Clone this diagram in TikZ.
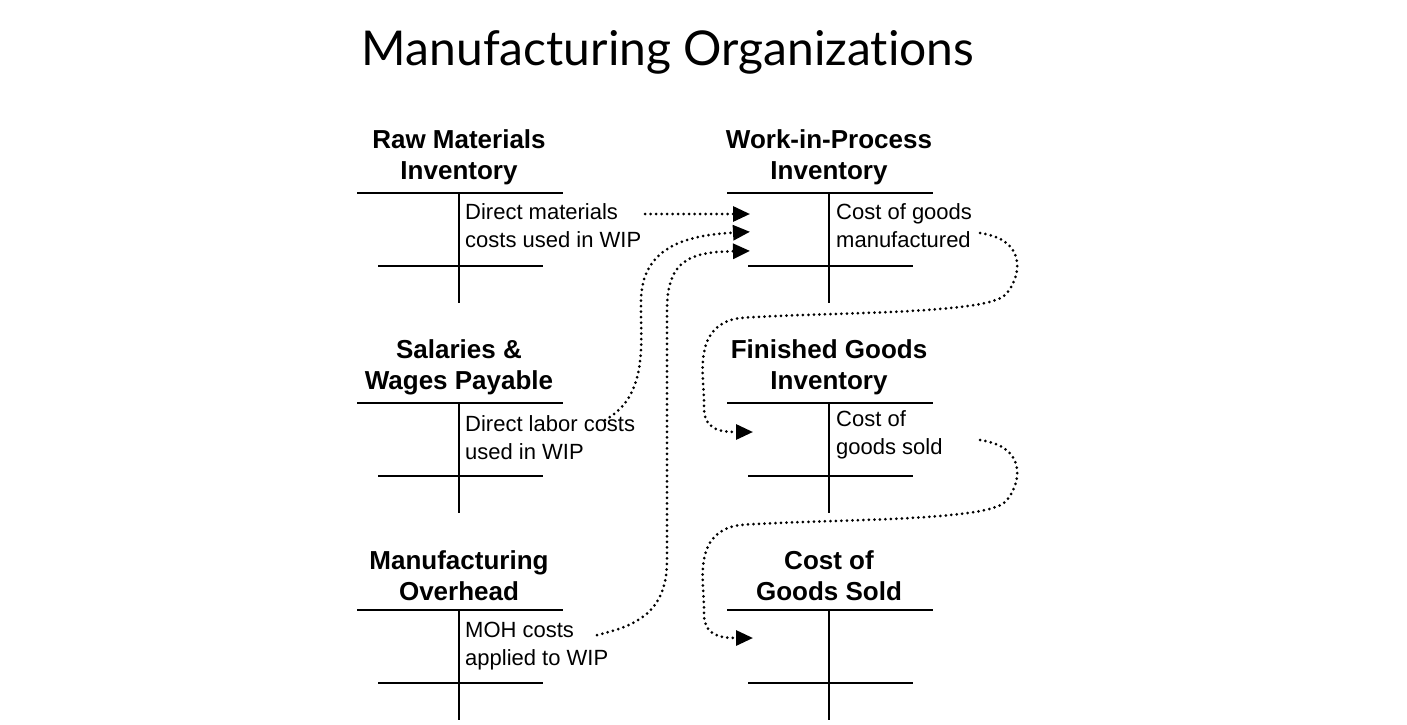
\documentclass[tikz,border=0pt]{standalone}
\usepackage{fontspec}
\setmainfont{Liberation Sans}
\newfontfamily\titlefont[Ligatures=NoCommon]{Lato}
\usetikzlibrary{arrows.meta}
\tikzset{
  acct/.style={line width=2.2pt},
  flow/.style={line width=3pt, dash pattern=on 0pt off 5.5pt, line cap=round, -{Triangle[length=17pt,width=15pt,line cap=butt,sep=-4pt]}},
  head/.style={font=\fontsize{26}{31}\selectfont\bfseries, align=center},
  entry/.style={font=\fontsize{22}{28}\selectfont, align=left, anchor=north west, inner sep=0pt}
}
\begin{document}
\begin{tikzpicture}[x=1pt,y=-1pt]
\useasboundingbox (0,0) rectangle (1407,724);
\node[font=\titlefont\fontsize{48}{52}\selectfont] (title) at (668,52) {Manufacturing Organizations};
% T-accounts: #1 centre x, #2 top line y
\foreach \cx/\ty/\nm in {459/193/rm,459/403/sw,459/610/moh,829/193/wip,829/403/fg,829/610/cogs}{
  \draw[acct] (\cx-102,\ty) -- (\cx+104,\ty);
  \draw[acct] (\cx-81,\ty+73) -- (\cx+84,\ty+73);
  \draw[acct] (\cx,\ty) -- (\cx,\ty+110);
  \coordinate (\nm) at (\cx,\ty);
}
\node[head] (rmh) at (459,157) {Raw Materials\\Inventory};
\node[head] (swh) at (459,367) {Salaries \&\\Wages Payable};
\node[head] (mohh) at (459,576) {Manufacturing\\Overhead};
\node[head] (wiph) at (829,157) {Work-in-Process\\Inventory};
\node[head] (fgh) at (829,367) {Finished Goods\\Inventory};
\node[head] (cogsh) at (829,576) {Cost of\\Goods Sold};
\node[entry] (dm) at (465,203) {Direct materials\\costs used in WIP};
\node[entry] (dl) at (465,415) {Direct labor costs\\used in WIP};
\node[entry] (mo) at (465,622) {MOH costs\\applied to WIP};
\node[entry] (cgm) at (836,203) {Cost of goods\\manufactured};
\node[entry] (cgs) at (836,410) {Cost of\\goods sold};
\coordinate (in1) at (746,214);
\coordinate (in2) at (746,232);
\coordinate (in3) at (746,251);
\coordinate (in4) at (749,432);
\coordinate (in5) at (749,638);
\draw[flow] (645,214) -- (in1);
\draw[flow] (605,420) .. controls (650,395) and (640,340) .. (641,300)
  .. controls (642,245) and (690,235) .. (in2);
\draw[flow] (597,635) .. controls (640,625) and (667,610) .. (667,560)
  -- (667,310) .. controls (667,260) and (690,252) .. (in3);
\draw[flow] (980,233) .. controls (1030,240) and (1020,280) .. (1005,295)
  .. controls (985,315) and (820,312) .. (740,318)
  .. controls (690,325) and (705,380) .. (704,405)
  .. controls (703,430) and (720,432) .. (in4);
\draw[flow] (980,440) .. controls (1030,447) and (1020,487) .. (1005,502)
  .. controls (985,522) and (820,519) .. (740,525)
  .. controls (690,532) and (705,587) .. (704,611)
  .. controls (703,636) and (720,638) .. (in5);
\end{tikzpicture}
\end{document}
